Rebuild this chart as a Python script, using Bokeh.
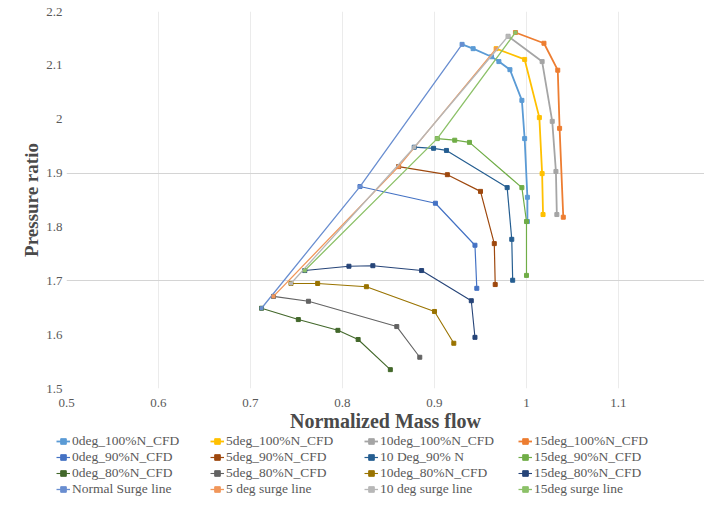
from bokeh.plotting import figure
from bokeh.layouts import column
from bokeh.models import Range1d, FixedTicker, NumeralTickFormatter, Legend, LegendItem
from bokeh.embed import file_html
from bokeh.resources import INLINE

# ---- data (normalized mass flow, pressure ratio) ----
x_0deg_100 = [0.930, 0.942, 0.962, 0.970, 0.982, 0.995, 0.998, 1.001, 1.001]
y_0deg_100 = [2.139, 2.131, 2.116, 2.107, 2.092, 2.035, 1.964, 1.855, 1.810]
x_5deg_100 = [0.967, 0.998, 1.014, 1.017, 1.018]
y_5deg_100 = [2.131, 2.111, 2.003, 1.899, 1.823]
x_10deg_100 = [0.980, 1.017, 1.028, 1.032, 1.033]
y_10deg_100 = [2.154, 2.107, 1.996, 1.903, 1.823]
x_15deg_100 = [0.988, 1.019, 1.034, 1.036, 1.040]
y_15deg_100 = [2.161, 2.141, 2.091, 1.983, 1.818]

x_0deg_90 = [0.819, 0.901, 0.944, 0.946]
y_0deg_90 = [1.875, 1.844, 1.766, 1.686]
x_5deg_90 = [0.861, 0.914, 0.950, 0.965, 0.966]
y_5deg_90 = [1.912, 1.897, 1.866, 1.769, 1.693]
x_10deg_90 = [0.878, 0.899, 0.913, 0.979, 0.984, 0.985]
y_10deg_90 = [1.948, 1.946, 1.942, 1.873, 1.777, 1.701]
x_15deg_90 = [0.903, 0.922, 0.938, 0.995, 1.000, 1.000]
y_15deg_90 = [1.964, 1.961, 1.957, 1.873, 1.810, 1.710]

x_0deg_80 = [0.712, 0.752, 0.795, 0.817, 0.852]
y_0deg_80 = [1.649, 1.628, 1.608, 1.591, 1.535]
x_5deg_80 = [0.725, 0.763, 0.859, 0.884]
y_5deg_80 = [1.671, 1.662, 1.615, 1.558]
x_10deg_80 = [0.744, 0.773, 0.826, 0.900, 0.921]
y_10deg_80 = [1.695, 1.695, 1.689, 1.643, 1.584]
x_15deg_80 = [0.759, 0.807, 0.833, 0.886, 0.940, 0.944]
y_15deg_80 = [1.719, 1.727, 1.728, 1.719, 1.663, 1.595]

x_surge_0 = [0.712, 0.819, 0.930]
y_surge_0 = [1.649, 1.875, 2.139]
x_surge_5 = [0.725, 0.861, 0.967]
y_surge_5 = [1.671, 1.912, 2.131]
x_surge_10 = [0.744, 0.878, 0.980]
y_surge_10 = [1.695, 1.948, 2.154]
x_surge_15 = [0.759, 0.903, 0.988]
y_surge_15 = [1.719, 1.964, 2.161]

series_labels = [
    "0deg_100%N_CFD", "5deg_100%N_CFD", "10deg_100%N_CFD", "15deg_100%N_CFD",
    "0deg_90%N_CFD", "5deg_90%N_CFD", "10 Deg_90% N", "15deg_90%N_CFD",
    "0deg_80%N_CFD", "5deg_80%N_CFD", "10deg_80%N_CFD", "15deg_80%N_CFD",
    "Normal Surge line", "5 deg surge line", "10 deg surge line", "15deg surge line",
]
series_x = [x_0deg_100, x_5deg_100, x_10deg_100, x_15deg_100,
            x_0deg_90, x_5deg_90, x_10deg_90, x_15deg_90,
            x_0deg_80, x_5deg_80, x_10deg_80, x_15deg_80,
            x_surge_0, x_surge_5, x_surge_10, x_surge_15]
series_y = [y_0deg_100, y_5deg_100, y_10deg_100, y_15deg_100,
            y_0deg_90, y_5deg_90, y_10deg_90, y_15deg_90,
            y_0deg_80, y_5deg_80, y_10deg_80, y_15deg_80,
            y_surge_0, y_surge_5, y_surge_10, y_surge_15]
series_colors = ["#5B9BD5", "#FFC000", "#A5A5A5", "#ED7D31",
                 "#4472C4", "#9E480E", "#255E91", "#70AD47",
                 "#43682B", "#636363", "#997300", "#264478",
                 "#698ED0", "#F1975A", "#B7B7B7", "#8CC168"]
series_widths = [1.8, 1.8, 1.8, 1.8, 1.2, 1.2, 1.2, 1.2, 1.1, 1.1, 1.1, 1.1, 1.3, 1.3, 1.3, 1.3]
series_msize = [4, 4, 4, 4, 4, 4, 4, 4, 4, 4, 4, 4, 3, 3, 3, 3]

x_ticks = [0.5, 0.6, 0.7, 0.8, 0.9, 1.0, 1.1, 1.2]
y_ticks = [1.5, 1.6, 1.7, 1.8, 1.9, 2.0, 2.1, 2.2]
y_grid_lines = [1.7, 1.9]

# ---- main chart ----
p = figure(frame_width=638, frame_height=377, output_backend="svg", toolbar_location=None,
           x_range=Range1d(0.5, 1.1935), y_range=Range1d(1.5, 2.2),
           min_border_left=66, min_border_right=0, min_border_top=11, min_border_bottom=0,
           x_axis_label="Normalized Mass flow", y_axis_label="Pressure ratio")
p.outline_line_color = None
p.frame_align = False

p.xaxis.ticker = FixedTicker(ticks=x_ticks)
p.yaxis.ticker = FixedTicker(ticks=y_ticks)
p.xaxis.formatter = NumeralTickFormatter(format="0.[0]")
p.yaxis.formatter = NumeralTickFormatter(format="0.[0]")
for ax in (p.xaxis, p.yaxis):
    ax.axis_line_color = None
    ax.major_tick_line_color = None
    ax.minor_tick_line_color = None
    ax.major_tick_out = 0
    ax.major_tick_in = 0
    ax.minor_tick_out = 0
    ax.major_label_text_font = "Liberation Serif"
    ax.major_label_text_font_size = "13px"
    ax.major_label_text_color = "#595959"
    ax.axis_label_text_font = "Liberation Serif"
    ax.axis_label_text_font_style = "bold"
    ax.axis_label_text_color = "#4A4A4A"
p.xaxis.major_label_standoff = 10
p.xaxis.axis_label_standoff = 0
p.xaxis.axis_label_text_font_size = "20px"
p.yaxis.major_label_standoff = 4
p.yaxis.axis_label_standoff = 1
p.yaxis.axis_label_text_font_size = "19px"

p.xgrid.ticker = FixedTicker(ticks=x_ticks)
p.xgrid.grid_line_color = "#EBEBEB"
p.ygrid.ticker = FixedTicker(ticks=y_grid_lines)
p.ygrid.grid_line_color = "#D4D4D4"

for xs, ys, c, w, ms in zip(series_x, series_y, series_colors, series_widths, series_msize):
    p.line(xs, ys, line_color=c, line_width=w)
    p.scatter(xs, ys, marker="square", size=ms, fill_color=c, line_color=c)

# ---- legend strip below the chart (its series sit outside its view) ----
lg_fig = figure(width=704, height=63, output_backend="svg", toolbar_location=None,
                x_range=Range1d(-10, -9), y_range=Range1d(-10, -9),
                x_axis_location=None, y_axis_location=None, min_border=0)
lg_fig.outline_line_color = None
lg_fig.grid.visible = False
lg_fig.frame_align = False

items = []
for lab, xs, ys, c, w, ms in zip(series_labels, series_x, series_y, series_colors,
                                  series_widths, series_msize):
    r1 = lg_fig.line(xs, ys, line_color=c, line_width=w)
    r2 = lg_fig.scatter(xs, ys, marker="square", size=ms, fill_color=c, line_color=c)
    items.append(LegendItem(label=lab, renderers=[r1, r2]))

legend = Legend(items=items, orientation="horizontal", ncols=4, location=(56, 0),
                label_text_font="Liberation Serif", label_text_font_size="13.5px",
                label_text_color="#595959", glyph_width=14, glyph_height=14,
                label_height=14, label_width=138, label_standoff=2, spacing=0,
                padding=0, margin=0, border_line_color=None, background_fill_alpha=0)
lg_fig.add_layout(legend)

layout = column(p, lg_fig, spacing=0)
open("out.html", "w").write(file_html(layout, INLINE))
